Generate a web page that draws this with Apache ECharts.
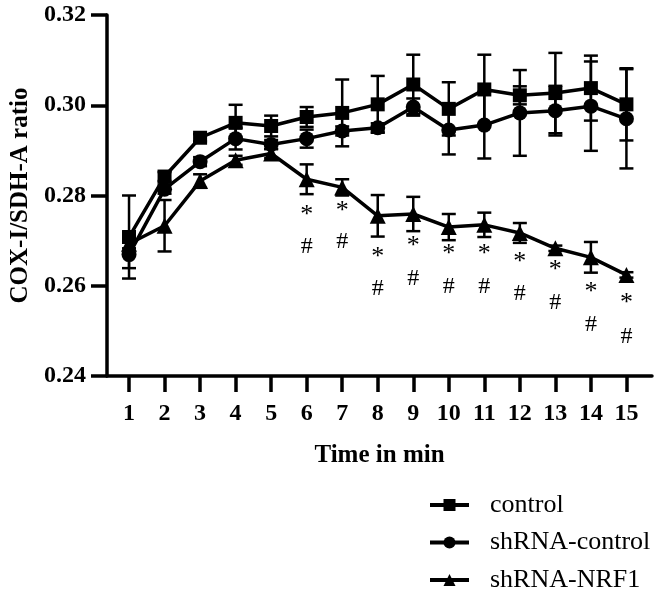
<!DOCTYPE html>
<html>
<head>
<meta charset="utf-8">
<script src="https://cdn.jsdelivr.net/npm/echarts@6/dist/echarts.min.js"></script>
<style>
html,body{margin:0;padding:0;background:#fff;}
#chart{width:657px;height:592px;}
</style>
</head>
<body>
<div id="chart"></div>
<script>
const timeMin = [1,2,3,4,5,6,7,8,9,10,11,12,13,14,15];
const yTicks = [0.24,0.26,0.28,0.30,0.32];

const control    = [0.2708,0.2842,0.2928,0.2961,0.2954,0.2974,0.2983,0.3002,0.3046,0.2992,0.3035,0.3022,0.3027,0.3038,0.3002];
const controlErr = [0.0092,0.0010,0.0008,0.0040,0.0023,0.0022,0.0074,0.0063,0.0066,0.0059,0.0077,0.0020,0.0089,0.0072,0.0080];

const shControl    = [0.2669,0.2814,0.2875,0.2926,0.2913,0.2926,0.2943,0.2950,0.2996,0.2945,0.2956,0.2983,0.2988,0.2998,0.2970];
const shControlErr = [0.0030,0.0010,0.0010,0.0024,0.0010,0.0020,0.0010,0.0010,0.0019,0.0054,0.0074,0.0095,0.0055,0.0099,0.0110];

const shNRF1    = [0.2693,0.2733,0.2832,0.2878,0.2893,0.2836,0.2818,0.2755,0.2759,0.2730,0.2735,0.2717,0.2683,0.2663,0.2624];
const shNRF1Err = [0.0010,0.0057,0.0015,0.0010,0.0010,0.0033,0.0018,0.0046,0.0038,0.0029,0.0027,0.0022,0.0006,0.0034,0.0006];

const sigTimes = [6,7,8,9,10,11,12,13,14,15];
const starY    = [0.2768,0.2777,0.2675,0.2698,0.2680,0.2680,0.2664,0.2645,0.2597,0.2572];
const hashY    = [0.2693,0.2704,0.2600,0.2623,0.2605,0.2605,0.2588,0.2568,0.2521,0.2494];

const seriesNames = ['control','shRNA-control','shRNA-NRF1'];
const seriesSymbols = ['rect','circle','triangle'];
const seriesSizes = [14,15,16];
const means = [control, shControl, shNRF1];
const errs = [controlErr, shControlErr, shNRF1Err];

const FONT = 'Liberation Serif, Times New Roman, serif';

function errorSeries(m, e) {
  return {
    type: 'custom',
    silent: true,
    z: 1,
    data: timeMin.map((t, i) => [t, m[i] - e[i], m[i] + e[i]]),
    renderItem: function (params, api) {
      const x = api.value(0);
      const lo = api.coord([x, api.value(1)]);
      const hi = api.coord([x, api.value(2)]);
      const hw = 7;
      const st = { stroke: '#000', lineWidth: 2.5 };
      return {
        type: 'group',
        children: [
          { type: 'line', shape: { x1: hi[0], y1: hi[1], x2: lo[0], y2: lo[1] }, style: st },
          { type: 'line', shape: { x1: hi[0] - hw, y1: hi[1], x2: hi[0] + hw, y2: hi[1] }, style: st },
          { type: 'line', shape: { x1: lo[0] - hw, y1: lo[1], x2: lo[0] + hw, y2: lo[1] }, style: st }
        ]
      };
    }
  };
}

const series = [];
means.forEach((m, k) => series.push(errorSeries(m, errs[k])));
means.forEach((m, k) => series.push({
  name: seriesNames[k],
  type: 'line',
  z: 3,
  data: timeMin.map((t, i) => [t, m[i]]),
  symbol: seriesSymbols[k],
  symbolSize: seriesSizes[k],
  showSymbol: true,
  lineStyle: { color: '#000', width: 3.5 },
  itemStyle: { color: '#000', borderWidth: 0 },
  emphasis: { disabled: true },
  animation: false
}));

function annotation(ys, text, size, dy) {
  return {
    type: 'scatter',
    silent: true,
    symbol: 'circle',
    symbolSize: 1,
    itemStyle: { color: 'rgba(0,0,0,0)', opacity: 1 },
    data: sigTimes.map((t, i) => [t, ys[i]]),
    label: {
      show: true,
      position: [0.5, dy],
      align: 'center',
      verticalAlign: 'middle',
      formatter: text,
      color: '#000',
      opacity: 1,
      textBorderWidth: 0,
      fontFamily: FONT,
      fontSize: size
    },
    labelLayout: { hideOverlap: false },
    emphasis: { disabled: true },
    animation: false
  };
}
series.push(annotation(starY, '*', 26, 5.5));
series.push(annotation(hashY, '#', 24, 3.5));

const chart = echarts.init(document.getElementById('chart'), null, { renderer: 'canvas' });
chart.setOption({
  animation: false,
  backgroundColor: '#fff',
  grid: { left: 107, right: 5, top: 15, bottom: 216, containLabel: false },
  xAxis: {
    type: 'value',
    min: 0.38,
    max: 15.72,
    name: 'Time in min',
    nameLocation: 'middle',
    nameGap: 67,
    nameTextStyle: { fontFamily: FONT, fontWeight: 'bold', fontSize: 25, color: '#000' },
    axisLine: { show: true, onZero: false, lineStyle: { color: '#000', width: 3.5 } },
    axisTick: { show: true, customValues: timeMin, length: 16, lineStyle: { color: '#000', width: 3.5 } },
    axisLabel: { customValues: timeMin, margin: 26, fontFamily: FONT, fontWeight: 'bold', fontSize: 24, color: '#000', formatter: v => String(v) },
    splitLine: { show: false }
  },
  yAxis: {
    type: 'value',
    min: yTicks[0],
    max: yTicks[yTicks.length - 1],
    interval: 0.02,
    name: 'COX-I/SDH-A ratio',
    nameLocation: 'middle',
    nameGap: 74,
    nameTextStyle: { fontFamily: FONT, fontWeight: 'bold', fontSize: 25, color: '#000' },
    axisLine: { show: true, lineStyle: { color: '#000', width: 3.5 } },
    axisTick: { show: true, length: 16, lineStyle: { color: '#000', width: 3.5 } },
    axisLabel: { margin: 21, fontFamily: FONT, fontWeight: 'bold', fontSize: 24, color: '#000', formatter: v => v.toFixed(2) },
    splitLine: { show: false }
  },
  legend: {
    data: seriesNames,
    orient: 'vertical',
    left: 428,
    top: 492,
    height: 120,
    padding: 0,
    itemWidth: 39,
    itemHeight: 15,
    itemGap: 11.5,
    selectedMode: false,
    lineStyle: { width: 4, color: '#000' },
    textStyle: { fontFamily: FONT, fontSize: 26, color: '#000', padding: [0, 0, 0, 16] }
  },
  series: series
});
</script>
</body>
</html>
